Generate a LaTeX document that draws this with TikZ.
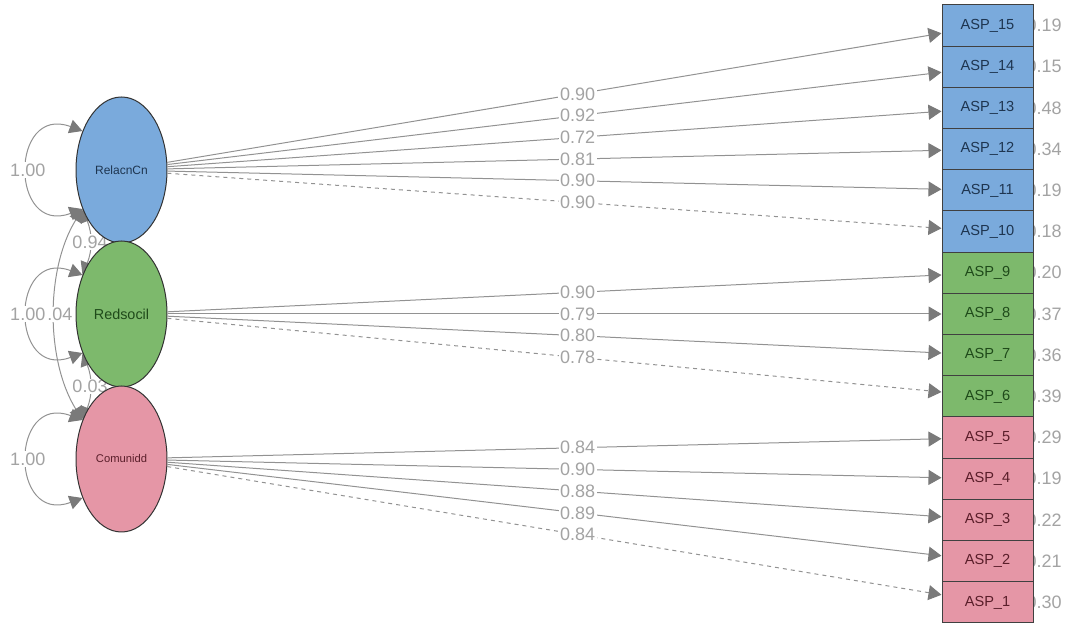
\documentclass[tikz,border=0pt]{standalone}
\usepackage{fontspec}
\setmainfont{Liberation Sans}
\usetikzlibrary{arrows.meta,shapes.geometric,backgrounds}
\definecolor{semazul}{HTML}{7AAADC}
\definecolor{semazulescuro}{HTML}{1E3550}
\definecolor{semverde}{HTML}{7DB96C}
\definecolor{semverdeescuro}{HTML}{1F4A1A}
\definecolor{semrosa}{HTML}{E596A6}
\definecolor{semrosaescuro}{HTML}{5A1E2A}
\definecolor{semcinza}{HTML}{929292}
\definecolor{semcinzaescuro}{HTML}{7A7A7A}
\definecolor{semcinzaclaro}{HTML}{A3A3A3}
\tikzset{
  semlatente/.style={ellipse, draw=black!80, line width=0.5pt, minimum width=45.5pt,
                  minimum height=73pt, inner sep=0pt},
  semindicador/.style={draw=black!75, line width=0.5pt, minimum width=45.5pt, minimum height=20.6pt,
                  inner sep=0pt, font=\fontsize{7.3}{8}\selectfont},
  semcarga/.style={-{Triangle[length=6.5pt,width=7.5pt,color=semcinzaescuro,fill=semcinzaescuro]},
                  draw=semcinza, line width=0.5pt},
  semcargatrac/.style={semcarga, dash pattern=on 2pt off 2pt},
  semvar/.style={{Triangle[length=6.5pt,width=7pt,color=semcinzaescuro,fill=semcinzaescuro]}-{Triangle[length=6.5pt,width=7pt,color=semcinzaescuro,fill=semcinzaescuro]},
                  draw=semcinza, line width=0.5pt},
  semrotulo/.style={font=\fontsize{9}{10}\selectfont, text=semcinzaclaro, fill=white, inner sep=0.8pt},
  semresid/.style={font=\fontsize{9}{10}\selectfont, text=semcinzaclaro, anchor=east, inner sep=0pt},
}

\begin{document}
\begin{tikzpicture}[x=0.5pt, y=-0.5pt]
  \useasboundingbox (0,0) rectangle (1067,624);
  % latentes
  \node[semlatente, fill=semazul, text=semazulescuro, font=\fontsize{6}{7}\selectfont] (rel) at (121.5,170) {RelacnCn};
  \node[semlatente, fill=semverde, text=semverdeescuro, font=\fontsize{7.2}{8}\selectfont] (red) at (121.5,314) {Redsocil};
  \node[semlatente, fill=semrosa, text=semrosaescuro, font=\fontsize{5.6}{6}\selectfont] (com) at (121.5,459) {Comunidd};
  % indicadores
  \node[semindicador, fill=semazul, text=semazulescuro] (a15) at (987.5,25.6) {ASP\_15};
  \node[semindicador, fill=semazul, text=semazulescuro] (a14) at (987.5,66.8) {ASP\_14};
  \node[semindicador, fill=semazul, text=semazulescuro] (a13) at (987.5,108.0) {ASP\_13};
  \node[semindicador, fill=semazul, text=semazulescuro] (a12) at (987.5,149.2) {ASP\_12};
  \node[semindicador, fill=semazul, text=semazulescuro] (a11) at (987.5,190.4) {ASP\_11};
  \node[semindicador, fill=semazul, text=semazulescuro] (a10) at (987.5,231.6) {ASP\_10};
  \node[semindicador, fill=semverde, text=semverdeescuro] (a9) at (987.5,272.8) {ASP\_9};
  \node[semindicador, fill=semverde, text=semverdeescuro] (a8) at (987.5,314.0) {ASP\_8};
  \node[semindicador, fill=semverde, text=semverdeescuro] (a7) at (987.5,355.2) {ASP\_7};
  \node[semindicador, fill=semverde, text=semverdeescuro] (a6) at (987.5,396.4) {ASP\_6};
  \node[semindicador, fill=semrosa, text=semrosaescuro] (a5) at (987.5,437.6) {ASP\_5};
  \node[semindicador, fill=semrosa, text=semrosaescuro] (a4) at (987.5,478.8) {ASP\_4};
  \node[semindicador, fill=semrosa, text=semrosaescuro] (a3) at (987.5,520.0) {ASP\_3};
  \node[semindicador, fill=semrosa, text=semrosaescuro] (a2) at (987.5,561.2) {ASP\_2};
  \node[semindicador, fill=semrosa, text=semrosaescuro] (a1) at (987.5,602.4) {ASP\_1};
  % residuos e covariancias (atras)
  \begin{scope}[on background layer]
    \node[semresid] (r15) at (1062,25.6) {0.19};
    \node[semresid] (r14) at (1062,66.8) {0.15};
    \node[semresid] (r13) at (1062,108.0) {0.48};
    \node[semresid] (r12) at (1062,149.2) {0.34};
    \node[semresid] (r11) at (1062,190.4) {0.19};
    \node[semresid] (r10) at (1062,231.6) {0.18};
    \node[semresid] (r9) at (1062,272.8) {0.20};
    \node[semresid] (r8) at (1062,314.0) {0.37};
    \node[semresid] (r7) at (1062,355.2) {0.36};
    \node[semresid] (r6) at (1062,396.4) {0.39};
    \node[semresid] (r5) at (1062,437.6) {0.29};
    \node[semresid] (r4) at (1062,478.8) {0.19};
    \node[semresid] (r3) at (1062,520.0) {0.22};
    \node[semresid] (r2) at (1062,561.2) {0.21};
    \node[semresid] (r1) at (1062,602.4) {0.30};
    \draw[semvar] (rel.225) .. controls +(-37,60) and +(-37,-60) .. (com.135) node[semrotulo, midway] {0.04};
    \draw[semvar] (rel.225) .. controls +(10,25) and +(10,-25) .. (red.135) node[semrotulo, midway] {0.94};
    \draw[semvar] (red.225) .. controls +(10,25) and +(10,-25) .. (com.135) node[semrotulo, midway] {0.03};
    \draw[semvar] (rel.135) .. controls +(-73,-27) and +(-73,27) .. (rel.225) node[semrotulo, midway] {1.00};
    \draw[semvar] (red.135) .. controls +(-73,-27) and +(-73,27) .. (red.225) node[semrotulo, midway] {1.00};
    \draw[semvar] (com.135) .. controls +(-73,-27) and +(-73,27) .. (com.225) node[semrotulo, midway] {1.00};
  \end{scope}
  % cargas
  \draw[semcarga] (rel) -- (a15) node[semrotulo, pos=0.53] {0.90};
  \draw[semcarga] (rel) -- (a14) node[semrotulo, pos=0.53] {0.92};
  \draw[semcarga] (rel) -- (a13) node[semrotulo, pos=0.53] {0.72};
  \draw[semcarga] (rel) -- (a12) node[semrotulo, pos=0.53] {0.81};
  \draw[semcarga] (rel) -- (a11) node[semrotulo, pos=0.53] {0.90};
  \draw[semcargatrac] (rel) -- (a10) node[semrotulo, pos=0.53] {0.90};
  \draw[semcarga] (red) -- (a9) node[semrotulo, pos=0.53] {0.90};
  \draw[semcarga] (red) -- (a8) node[semrotulo, pos=0.53] {0.79};
  \draw[semcarga] (red) -- (a7) node[semrotulo, pos=0.53] {0.80};
  \draw[semcargatrac] (red) -- (a6) node[semrotulo, pos=0.53] {0.78};
  \draw[semcarga] (com) -- (a5) node[semrotulo, pos=0.53] {0.84};
  \draw[semcarga] (com) -- (a4) node[semrotulo, pos=0.53] {0.90};
  \draw[semcarga] (com) -- (a3) node[semrotulo, pos=0.53] {0.88};
  \draw[semcarga] (com) -- (a2) node[semrotulo, pos=0.53] {0.89};
  \draw[semcargatrac] (com) -- (a1) node[semrotulo, pos=0.53] {0.84};
\end{tikzpicture}
\end{document}
